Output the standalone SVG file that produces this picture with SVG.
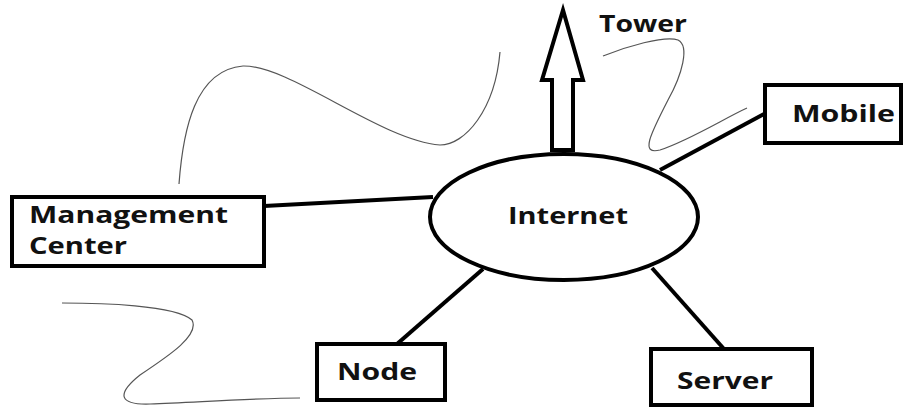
<svg xmlns="http://www.w3.org/2000/svg" width="903" height="408" viewBox="0 0 903 408">
<style>
.box{fill:#fff;stroke:#000;stroke-width:4}
.lbl{font-family:"Open Sans","Noto Sans","Liberation Sans",sans-serif;font-weight:bold;font-size:24px;fill:#111}
.wire{stroke:#000;stroke-width:4;fill:none}
.squig{stroke:#555;stroke-width:1.2;fill:none}
</style>
<rect width="903" height="408" fill="#fff"/>
<g id="squiggles">
<path class="squig" d="M179,184 C183,130 195,70 243,66 C290,65 380,140 440,145 C465,145 495,110 500,52"/>
<path class="squig" d="M603,56 C625,47 665,35 678,40 C690,46 682,75 668,100 C650,135 640,155 660,150 C690,140 725,118 747,108"/>
<path class="squig" d="M62,303 C100,303 175,305 192,320 C200,335 170,355 140,375 C115,395 120,405 150,404 C200,402 260,398 300,398"/>
</g>
<g id="connectors">
<line class="wire" x1="264" y1="206" x2="433" y2="197"/>
<line class="wire" x1="660" y1="170" x2="766" y2="113"/>
<line class="wire" x1="397" y1="344" x2="483" y2="269"/>
<line class="wire" x1="652" y1="268" x2="724" y2="349"/>
</g>
<g id="tower">
<path class="box" d="M563,10 L583,80 L573,80 L573,150 L552,150 L552,80 L542,80 Z" stroke-linejoin="miter"/>
<text class="lbl" x="599" y="32" textLength="88" lengthAdjust="spacingAndGlyphs">Tower</text>
</g>
<g id="internet">
<ellipse class="box" cx="564" cy="217" rx="134" ry="63"/>
<text class="lbl" x="508" y="224" textLength="120" lengthAdjust="spacingAndGlyphs">Internet</text>
</g>
<g id="management">
<rect class="box" x="12" y="197" width="252" height="69"/>
<text class="lbl" x="29" y="223" textLength="199" lengthAdjust="spacingAndGlyphs">Management</text>
<text class="lbl" x="29" y="254" textLength="98" lengthAdjust="spacingAndGlyphs">Center</text>
</g>
<g id="mobile">
<rect class="box" x="765" y="85" width="136" height="58"/>
<text class="lbl" x="792" y="122" textLength="103" lengthAdjust="spacingAndGlyphs">Mobile</text>
</g>
<g id="node">
<rect class="box" x="317" y="344" width="128" height="56"/>
<text class="lbl" x="337" y="380" textLength="80" lengthAdjust="spacingAndGlyphs">Node</text>
</g>
<g id="server">
<rect class="box" x="651" y="349" width="161" height="56"/>
<text class="lbl" x="677" y="389" textLength="96" lengthAdjust="spacingAndGlyphs">Server</text>
</g>
</svg>
